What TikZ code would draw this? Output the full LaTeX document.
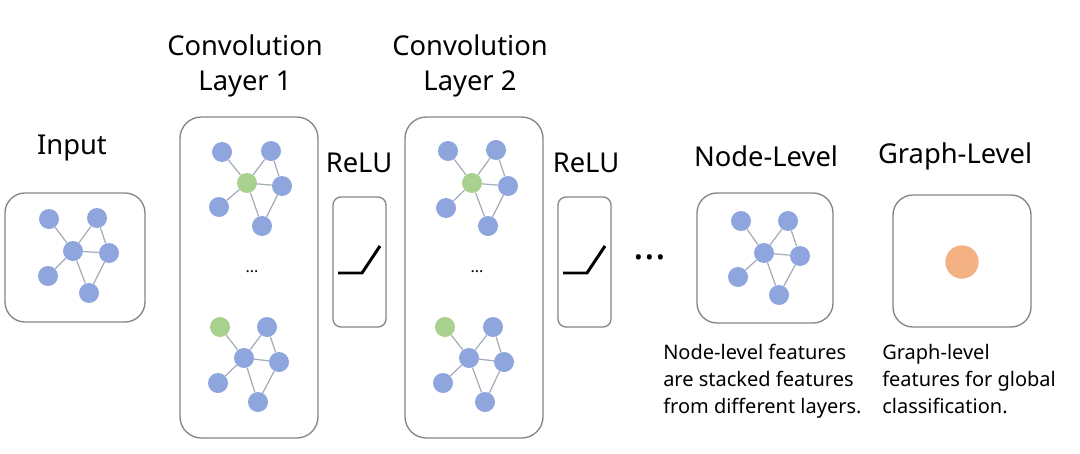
\documentclass[tikz,border=0pt]{standalone}
\usepackage{fontspec}
\setmainfont{Noto Sans}
\usetikzlibrary{positioning}

\definecolor{gnodeblue}{HTML}{8EA5DE}
\definecolor{gnodegreen}{HTML}{A9D18E}
\definecolor{gnodeorange}{HTML}{F4B183}
\definecolor{gedge}{HTML}{A3AAB8}
\definecolor{gframe}{HTML}{858585}

\tikzset{
  bnode/.style={circle, fill=gnodeblue, draw=none, inner sep=0pt, minimum size=15pt},
  gnode/.style={circle, fill=gnodegreen, draw=none, inner sep=0pt, minimum size=15pt},
  onode/.style={circle, fill=gnodeorange, draw=none, inner sep=0pt, minimum size=25pt},
  gline/.style={draw=gedge, line width=0.9pt},
  frame/.style={draw=gframe, line width=1pt, fill=white},
  title/.style={font=\fontsize{20.5}{26}\selectfont, align=center},
  note/.style={font=\fontsize{15}{20.3}\selectfont, align=left, anchor=north west, inner sep=0pt}
}

\begin{document}
\begin{tikzpicture}[x=0.75pt, y=-0.75pt]
  \useasboundingbox (0,0) rectangle (1080,453);

  % frames
  \filldraw[frame, rounded corners=15pt] (5,193) rectangle (145,322);
  \filldraw[frame, rounded corners=16pt] (180,117) rectangle (318,438);
  \filldraw[frame, rounded corners=6pt] (333,197) rectangle (386,327);
  \filldraw[frame, rounded corners=16pt] (405,117) rectangle (543,438);
  \filldraw[frame, rounded corners=6pt] (558,197) rectangle (611,327);
  \filldraw[frame, rounded corners=15pt] (697,193) rectangle (833,323);
  \filldraw[frame, rounded corners=15pt] (893,195) rectangle (1031,327);

  % labels
  \node[title] (lin) at (72,148) {Input};
  \node[title] (lc1) at (245,66) {Convolution\\Layer 1};
  \node[title] (lr1) at (359,163) {ReLU};
  \node[title] (lc2) at (470,66) {Convolution\\Layer 2};
  \node[title] (lr2) at (586,163) {ReLU};
  \node[title] (lnl) at (766,156) {Node-Level};
  \node[title] (lgl) at (955,156) {Graph-Level};

  % input graph
  \node[bnode] (in1) at (49,219) {};
  \node[bnode] (in2) at (97,218) {};
  \node[bnode] (in3) at (73,251) {};
  \node[bnode] (in4) at (109,253) {};
  \node[bnode] (in5) at (48,276) {};
  \node[bnode] (in6) at (89,293) {};
  \draw[gline] (in1) -- (in3) (in2) -- (in3) (in2) -- (in4) (in3) -- (in4)
    (in3) -- (in5) (in3) -- (in6) (in4) -- (in6);

  % convolution layer 1
  \node[bnode] (ca1) at (222,152) {};
  \node[bnode] (ca2) at (271,151) {};
  \node[gnode] (ca3) at (247,183) {};
  \node[bnode] (ca4) at (282,186) {};
  \node[bnode] (ca5) at (219,207) {};
  \node[bnode] (ca6) at (262,226) {};
  \draw[gline] (ca1) -- (ca3) (ca2) -- (ca3) (ca2) -- (ca4) (ca3) -- (ca4)
    (ca3) -- (ca5) (ca3) -- (ca6) (ca4) -- (ca6);
  \node[font=\fontsize{12}{14}\selectfont] (cadots) at (252,272) {...};
  \node[gnode] (cb1) at (220,327) {};
  \node[bnode] (cb2) at (267,327) {};
  \node[bnode] (cb3) at (244,358) {};
  \node[bnode] (cb4) at (279,362) {};
  \node[bnode] (cb5) at (218,383) {};
  \node[bnode] (cb6) at (258,402) {};
  \draw[gline] (cb1) -- (cb3) (cb2) -- (cb3) (cb2) -- (cb4) (cb3) -- (cb4)
    (cb3) -- (cb5) (cb3) -- (cb6) (cb4) -- (cb6);

  % relu 1
  \draw[line width=2.2pt] (338,273) -- (362,273) -- (380,246);

  % convolution layer 2
  \node[bnode] (da1) at (448,151) {};
  \node[bnode] (da2) at (496,150) {};
  \node[gnode] (da3) at (472,183) {};
  \node[bnode] (da4) at (508,186) {};
  \node[bnode] (da5) at (446,208) {};
  \node[bnode] (da6) at (488,226) {};
  \draw[gline] (da1) -- (da3) (da2) -- (da3) (da2) -- (da4) (da3) -- (da4)
    (da3) -- (da5) (da3) -- (da6) (da4) -- (da6);
  \node[font=\fontsize{12}{14}\selectfont] (dadots) at (477,272) {...};
  \node[gnode] (db1) at (445,327) {};
  \node[bnode] (db2) at (493,327) {};
  \node[bnode] (db3) at (469,358) {};
  \node[bnode] (db4) at (504,362) {};
  \node[bnode] (db5) at (443,383) {};
  \node[bnode] (db6) at (485,402) {};
  \draw[gline] (db1) -- (db3) (db2) -- (db3) (db2) -- (db4) (db3) -- (db4)
    (db3) -- (db5) (db3) -- (db6) (db4) -- (db6);

  % relu 2
  \draw[line width=2.2pt] (563,273) -- (587,273) -- (605,246);

  % more layers
  \node[font=\fontsize{30}{32}\selectfont\bfseries] (more) at (650,257) {...};

  % node-level graph
  \node[bnode] (nl1) at (741,221) {};
  \node[bnode] (nl2) at (788,221) {};
  \node[bnode] (nl3) at (764,253) {};
  \node[bnode] (nl4) at (800,256) {};
  \node[bnode] (nl5) at (738,277) {};
  \node[bnode] (nl6) at (779,295) {};
  \draw[gline] (nl1) -- (nl3) (nl2) -- (nl3) (nl2) -- (nl4) (nl3) -- (nl4)
    (nl3) -- (nl5) (nl3) -- (nl6) (nl4) -- (nl6);

  % graph-level readout
  \node[onode] (gl) at (962,262) {};

  % notes
  \node[note] (nnote) at (663,344) {Node-level features\\are stacked features\\from different layers.};
  \node[note] (gnote) at (882,344) {Graph-level\\features for global\\classification.};
\end{tikzpicture}
\end{document}
